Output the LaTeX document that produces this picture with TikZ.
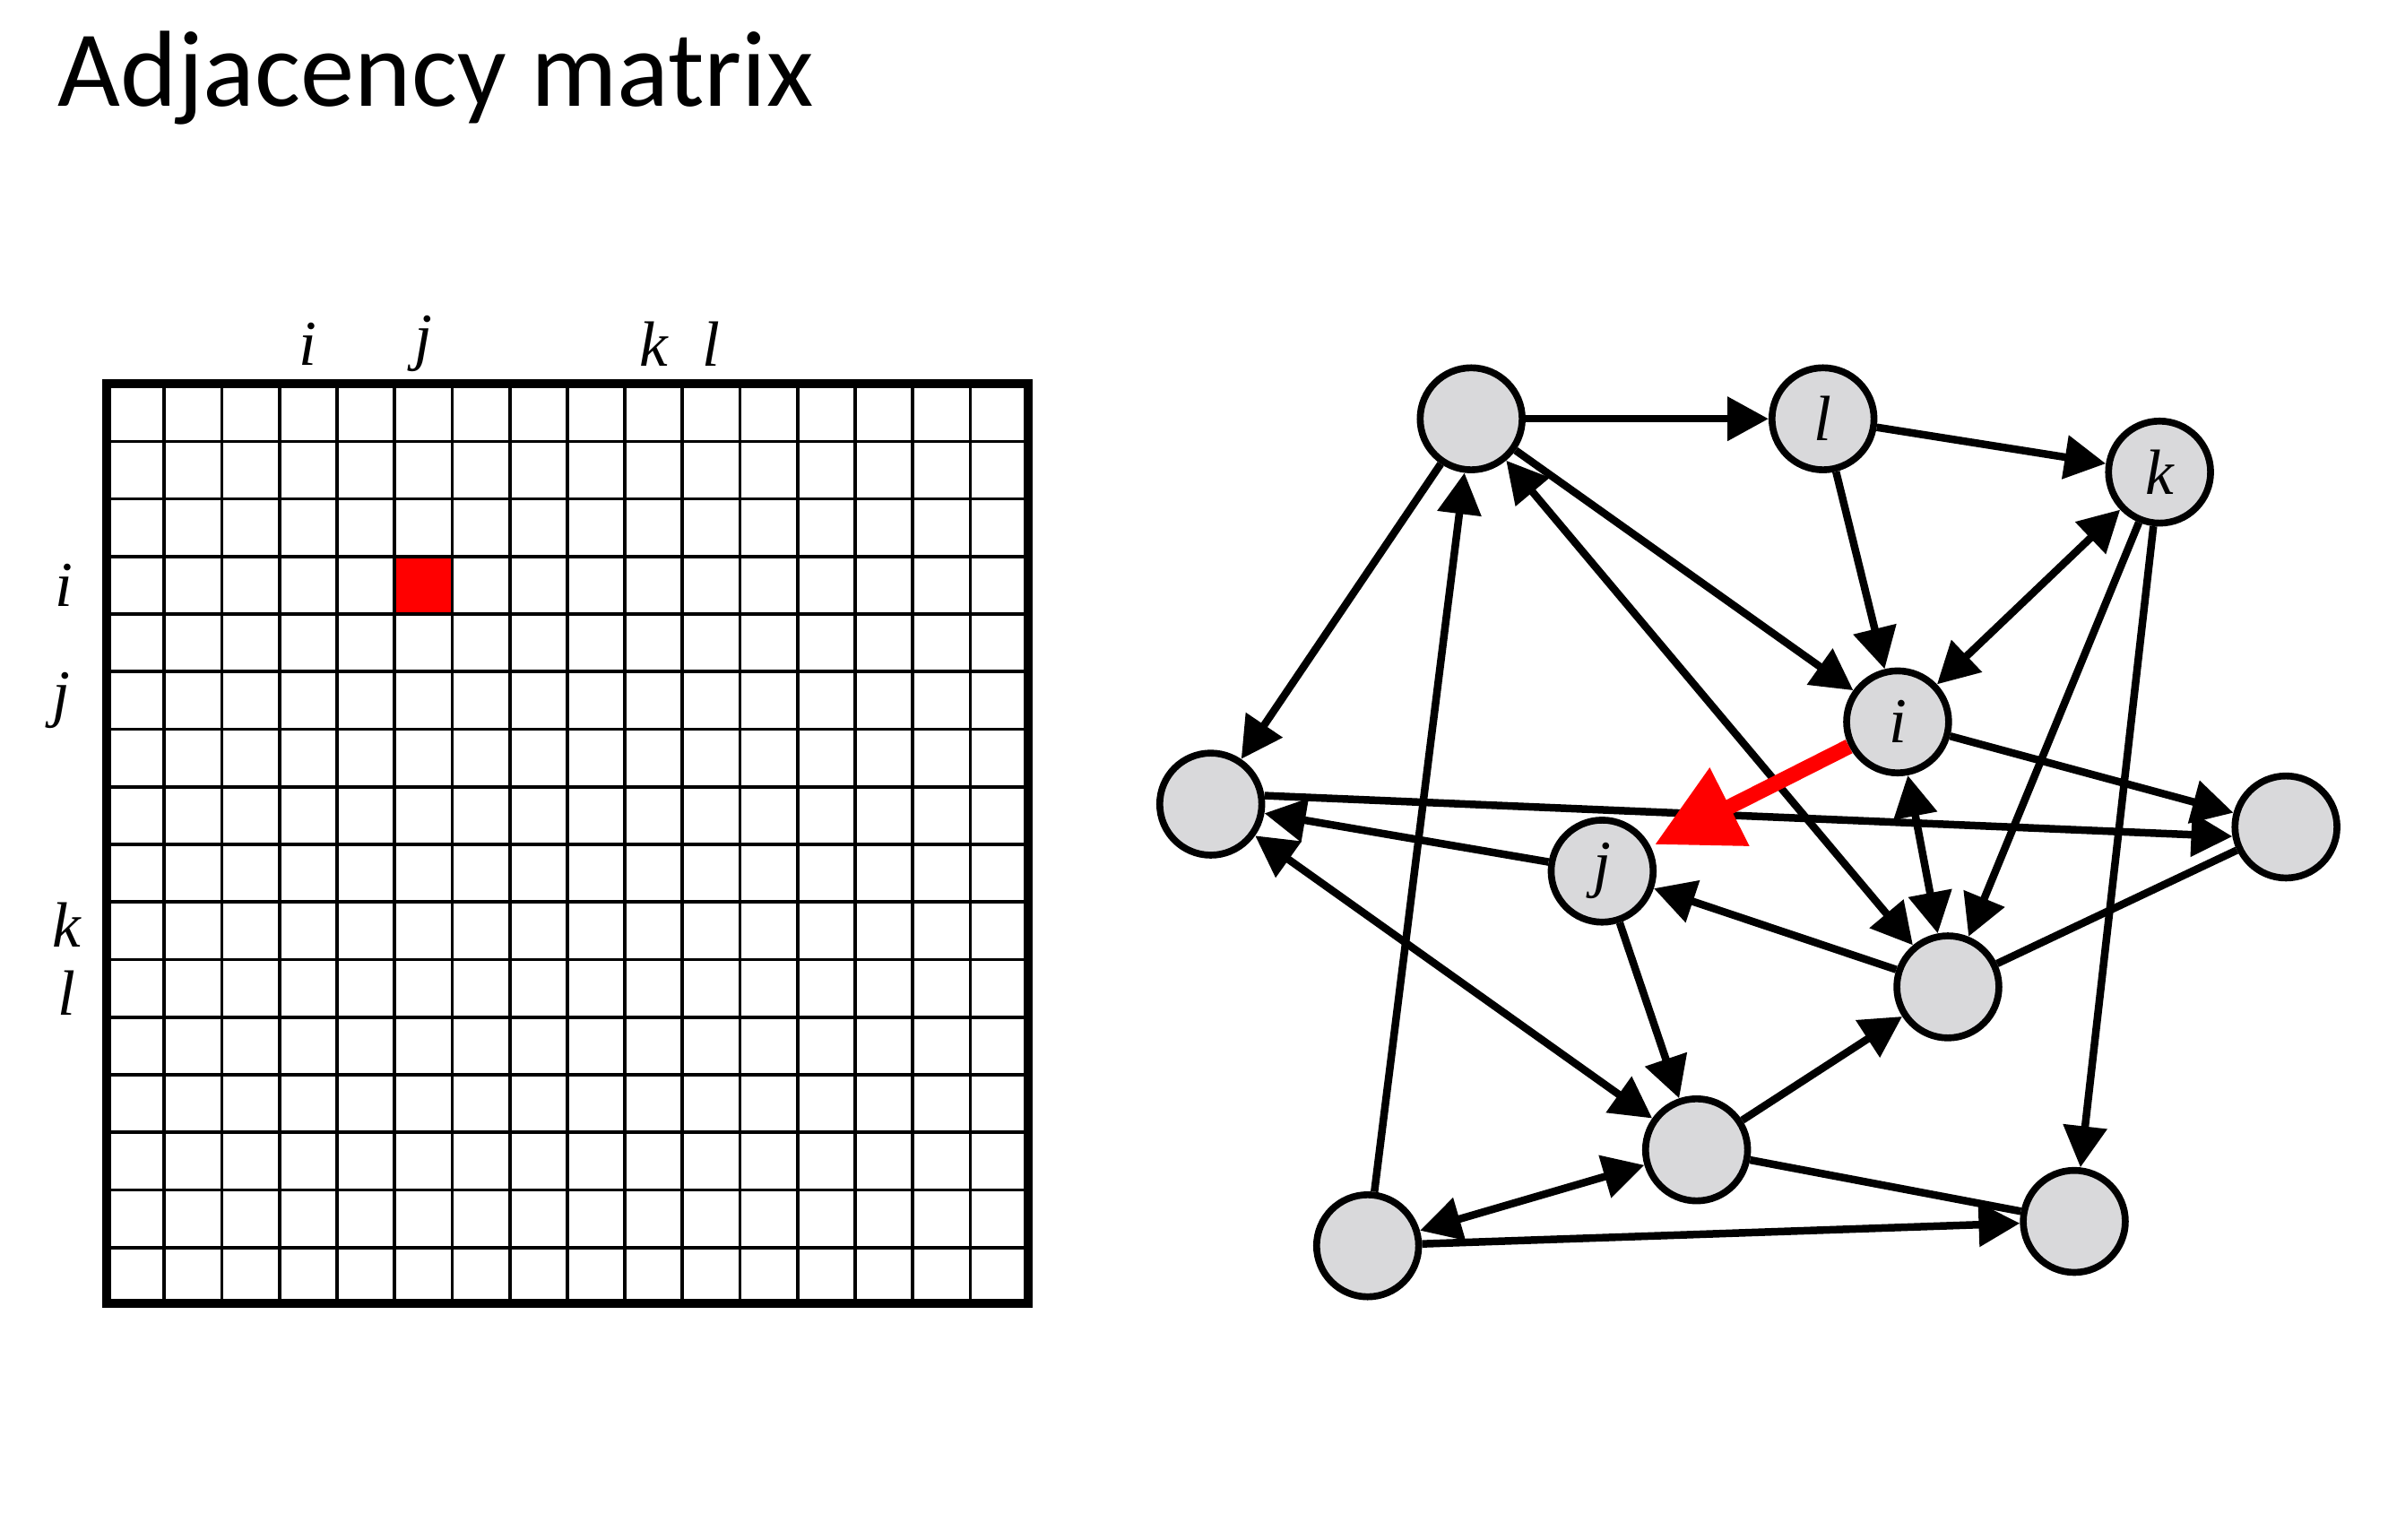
\documentclass[tikz,border=0pt]{standalone}
\usepackage{fontspec}
\newfontfamily\titlefont{Carlito}
\newfontfamily\lblfont{Liberation Serif}
\usetikzlibrary{arrows.meta}
\definecolor{nodegray}{RGB}{217,217,219}
\begin{document}
\begin{tikzpicture}[x=1pt,y=-1pt,
  vtx/.style={circle,draw=black,line width=4.5pt,fill=nodegray,minimum size=67pt,inner sep=0pt,font=\lblfont\fontsize{42}{44}\selectfont\itshape},
  edge/.style={line width=5pt,black},
  tip/.style={-{Triangle[length=27pt,width=28pt]}},
  tips/.style={{Triangle[length=27pt,width=28pt]}-{Triangle[length=27pt,width=28pt]}},
  gridline/.style={line width=2.2pt,black},
  lbl/.style={font=\lblfont\fontsize{42}{44}\selectfont\itshape,inner sep=0pt},
]
\useasboundingbox (0,0) rectangle (1568,1011);
% title
\node[anchor=base west,inner sep=0pt,font=\titlefont\fontsize{71}{80}\selectfont] (title) at (38,70) {Adjacency matrix};
% matrix
\def\cs{37.8125}
\fill[red] ({70+5*\cs},{252+3*\cs}) rectangle ++(\cs,\cs);
\foreach \k in {1,...,15} {
  \draw[gridline] ({70+\k*\cs},252) -- ({70+\k*\cs},856);
  \draw[gridline] (70,{252+\k*\cs}) -- (675,{252+\k*\cs});
}
\draw[line width=6pt] (70,252) rectangle (675,856);
% column labels
\node[lbl] (ci) at ({70+3.5*\cs},226) {i};
\node[lbl] (cj) at ({70+5.5*\cs},226) {j};
\node[lbl] (ck) at ({70+9.5*\cs},226) {k};
\node[lbl] (cl) at ({70+10.5*\cs},226) {l};
% row labels
\node[lbl] (ri) at (42,{252+3.5*\cs}) {i};
\node[lbl] (rj) at (40,{252+5.5*\cs}) {j};
\node[lbl] (rk) at (44,607) {k};
\node[lbl] (rl) at (44,652) {l};
% graph nodes
\node[vtx] (A) at (966,275) {};
\node[vtx] (l) at (1197,275) {l};
\node[vtx] (k) at (1418,310) {k};
\node[vtx] (i) at (1246,474) {i};
\node[vtx] (L) at (795,528) {};
\node[vtx] (R) at (1501,543) {};
\node[vtx] (j) at (1052,572) {j};
\node[vtx] (M) at (1279,648) {};
\node[vtx] (N) at (1114,755) {};
\node[vtx] (BL) at (898,818) {};
\node[vtx] (BR) at (1362,802) {};
% edges
\draw[edge,tip] (A) -- (l);
\draw[edge,tip] (l) -- (k);
\draw[edge,tip] (l) -- (i);
\draw[edge,tip] (A) -- (i);
\draw[edge,tips] (k) -- (i);
\draw[edge,tip] (A) -- (L);
\draw[edge,tip] (BL) -- (A);
\draw[edge,tips] (A) -- (M);
\draw[edge,tip] (i) -- (R);
\draw[edge,tip] (L.9) -- (R.190);
\draw[edge,tips] (i) -- (M);
\draw[edge,tip] (k) -- (M);
\draw[edge,tip] (k) -- (BR);
\draw[edge,tip] (j) -- (L);
\draw[edge,tip] (M) -- (j);
\draw[edge] (R) -- (M);
\draw[edge,tip] (j) -- (N);
\draw[edge,tip] (N) -- (M);
\draw[edge,tips] (L) -- (N);
\draw[edge,tips] (BL) -- (N);
\draw[edge,tip] (BL) -- (BR);
\draw[edge] (N) -- (BR);
% red arrow
\draw[line width=10pt,red,-{Triangle[length=55pt,width=55pt]},shorten >=3pt] (i) -- (j);
\end{tikzpicture}
\end{document}
